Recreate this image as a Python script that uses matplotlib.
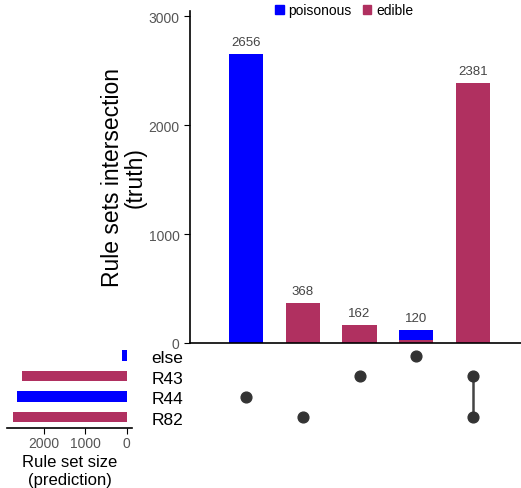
import matplotlib
matplotlib.use("Agg")
import matplotlib.pyplot as plt
from matplotlib.patches import Patch
import numpy as np

plt.rcParams['font.family'] = ['Liberation Sans', 'DejaVu Sans']

# Intersections (truth), stacked by class
intersections = ["R44", "R82", "R43", "else", "R43&R82"]
poisonous = [2656, 0, 0, 96, 0]
edible = [0, 368, 162, 24, 2381]
totals = [2656, 368, 162, 120, 2381]

# Rule sets (prediction)
sets = ["else", "R43", "R44", "R82"]
set_sizes = [120, 2543, 2656, 2749]
set_class = ["poisonous", "edible", "poisonous", "edible"]

# Membership of each intersection column
membership = [["R44"], ["R82"], ["R43"], ["else"], ["R43", "R82"]]

BLUE = "#0000FF"
EDIBLE = "#B03060"
class_color = {"poisonous": BLUE, "edible": EDIBLE}
TICK_GRAY = "#555555"

W, H = 521, 489
fig = plt.figure(figsize=(W / 100, H / 100), dpi=100)


def px_axes(x0, y0, x1, y1):
    return fig.add_axes([x0 / W, 1 - y1 / H, (x1 - x0) / W, (y1 - y0) / H])


n = len(intersections)
xs = np.arange(n)
xlim = (-0.987, 4.846)

# Row geometry shared by the matrix and the set-size bars
ROW0, ROW_STEP = 356.5, 20.5
M_TOP, M_BOT = 346, 430
row_ylim = (3 + (M_BOT - (ROW0 + 3 * ROW_STEP)) / ROW_STEP, -(ROW0 - M_TOP) / ROW_STEP)

# Intersection bar chart
ax = px_axes(190, 12, 521, 344)
ax.bar(xs, edible, width=0.6, color=EDIBLE)
ax.bar(xs, poisonous, width=0.6, bottom=edible, color=BLUE)
for x, t in zip(xs, totals):
    ax.text(x, t + 55, str(t), ha="center", va="bottom", fontsize=9.5, color="#444444")
ax.set_xlim(*xlim)
ax.set_ylim(0, 3046)
ax.set_yticks([0, 1000, 2000, 3000])
ax.set_xticks([])
ax.tick_params(axis="y", labelsize=10, labelcolor=TICK_GRAY, length=4, color="black")
for s in ["top", "right"]:
    ax.spines[s].set_visible(False)
ax.spines["left"].set_linewidth(1.2)
ax.spines["bottom"].set_linewidth(1.2)
ax.set_ylabel("Rule sets intersection\n(truth)", fontsize=16.5, labelpad=1,
              linespacing=1.0)

ax.legend(handles=[Patch(color=BLUE, label="poisonous"), Patch(color=EDIBLE, label="edible")],
          loc="upper center", bbox_to_anchor=(0.466, 1.04), ncol=2, frameon=False,
          fontsize=10, handlelength=0.6, handleheight=0.6, handletextpad=0.35,
          columnspacing=0.8, borderaxespad=0)

# Membership matrix
mx = px_axes(190, M_TOP, 521, M_BOT)
row_of = {s: i for i, s in enumerate(sets)}
for x, members in zip(xs, membership):
    rows = [row_of[m] for m in members]
    if len(rows) > 1:
        mx.plot([x, x], [min(rows), max(rows)], color="#444444", lw=1.8, zorder=1)
    mx.scatter([x] * len(rows), rows, s=60, color="#333333", zorder=2)
mx.set_xlim(*xlim)
mx.set_ylim(*row_ylim)
mx.axis("off")

# Row labels
for s, i in row_of.items():
    ypx = ROW0 + i * ROW_STEP + 7
    fig.text(183 / W, 1 - ypx / H, s, ha="right", va="baseline", fontsize=12.5)

# Rule set size bars
sx = px_axes(7, M_TOP, 132, 429)
sx.barh(np.arange(len(sets)), set_sizes, height=0.49,
        color=[class_color[c] for c in set_class])
sx.set_xlim(2897, -133)
sx.set_ylim(3 + (429 - (ROW0 + 3 * ROW_STEP)) / ROW_STEP, row_ylim[1])
sx.set_yticks([])
sx.set_xticks([2000, 1000, 0])
sx.tick_params(axis="x", labelsize=10, labelcolor=TICK_GRAY, length=4, pad=2)
for s in ["top", "right", "left"]:
    sx.spines[s].set_visible(False)
sx.spines["bottom"].set_linewidth(1.2)
sx.set_xlabel("Rule set size\n(prediction)", fontsize=12, labelpad=3)

fig.savefig("out.png", dpi=100)
